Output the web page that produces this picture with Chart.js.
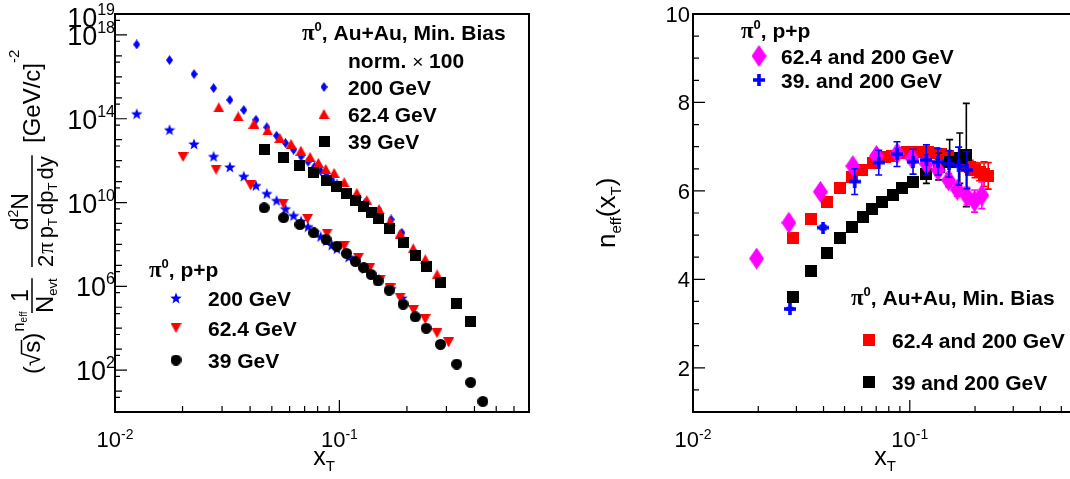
<!DOCTYPE html>
<html>
<head>
<meta charset="utf-8">
<script src="https://cdn.jsdelivr.net/npm/chart.js@4.4.1/dist/chart.umd.min.js"></script>
<style>
html, body { margin: 0; padding: 0; background: #fff; overflow: hidden; width: 1070px; height: 479px; }
#left { position: absolute; left: 0; top: 0; }
#right { position: absolute; left: 540px; top: 0; }
</style>
</head>
<body>
<canvas id="left" width="540" height="479"></canvas>
<canvas id="right" width="560" height="479"></canvas>
<script>
// ---- left panel: scaled pi0 yields vs xT (Au+Au already x100) ----
const xT200 = [0.0125, 0.0175, 0.0225, 0.0275, 0.0325, 0.0375, 0.0425, 0.0475, 0.0525, 0.0575, 0.0625, 0.0675,
  0.0725, 0.0775, 0.0825, 0.0875, 0.0925, 0.0975, 0.11, 0.13, 0.15, 0.17, 0.19];
const auau200Y = [3.5e17, 6.3e16, 1.35e16, 2.9e15, 7.9e14, 2.6e14, 8.9e13, 3.9e13, 1.55e13, 6.9e12, 3.3e12, 1.6e12,
  8.9e11, 5.2e11, 3.2e11, 1.9e11, 1.2e11, 7.4e10, 2.8e10, 9.5e9, 4.2e9, 1.55e9, 3.6e8];
const pp200Y = [1.74e14, 3.0e13, 6.3e12, 1.6e12, 5.0e11, 1.8e11, 6.5e10, 2.7e10, 1.26e10, 5.1e9, 2.4e9, 1.3e9,
  7.1e8, 4.0e8, 2.4e8, 1.5e8, 9.5e7, 6.3e7, 2.5e7, 7.1e6, 2.2e6, 7.9e5, 2.8e5];

const auau62X = [0.029, 0.0354, 0.0416, 0.0479, 0.0543, 0.0609, 0.0674, 0.074, 0.0806, 0.087, 0.0947, 0.105,
  0.1196, 0.1325, 0.1504, 0.1683, 0.1866, 0.2133, 0.2415, 0.2725];
const auau62Y = [3.5e14, 1.3e14, 5.8e13, 2.75e13, 1.2e13, 6.3e12, 3.0e12, 1.5e12, 7.8e11, 4.0e11, 2.6e11, 9.3e10,
  2.9e10, 1.3e10, 4.7e9, 1.26e9, 3.3e8, 6.5e7, 1.95e7, 3.7e6];

const pp62X = [0.0201, 0.0282, 0.0402, 0.0562, 0.0721, 0.0881, 0.105, 0.1216, 0.1362, 0.1522, 0.1683, 0.1866,
  0.214, 0.2413, 0.2723, 0.3067];
const pp62Y = [1.5e12, 3.7e11, 6.5e10, 8.9e9, 1.66e9, 3.3e8, 8.3e7, 2.3e7, 7.1e6, 2.1e6, 7.9e5, 2.9e5,
  7.4e4, 2.7e4, 5.8e3, 2.1e3];

const auau39X = [0.0462, 0.0564, 0.0667, 0.0769, 0.0872, 0.0974, 0.1077, 0.1179, 0.1282, 0.1385, 0.1487, 0.1667,
  0.1923, 0.2179, 0.2436, 0.2821, 0.3333, 0.3846];
const auau39Y = [3.3e12, 1.35e12, 5.6e11, 2.6e11, 1.15e11, 5.6e10, 2.7e10, 1.3e10, 6.3e9, 3.2e9, 1.66e9, 5.6e8,
  1.2e8, 3.0e7, 9.3e6, 1.5e6, 1.55e5, 2.1e4];

const pp39X = [0.0462, 0.0564, 0.0667, 0.0769, 0.0872, 0.0974, 0.1077, 0.1179, 0.1282, 0.1385, 0.1487, 0.1667,
  0.1923, 0.2179, 0.2436, 0.2821, 0.3333, 0.3846, 0.4359];
const pp39Y = [5.6e9, 1.9e9, 8.9e8, 3.6e8, 1.74e8, 8.3e7, 3.7e7, 1.55e7, 7.8e6, 3.7e6, 1.8e6, 6.5e5,
  1.4e5, 3.5e4, 1.0e4, 1.7e3, 195, 26, 3.2];

// ---- right panel: n_eff(xT) ----
const neffPP62X = [0.01965, 0.02767, 0.0387, 0.0546, 0.0702, 0.0875, 0.1023, 0.1193, 0.135, 0.151, 0.1656, 0.1834, 0.199, 0.215];
const neffPP62 = [4.47, 5.28, 5.98, 6.56, 6.79, 6.85, 6.74, 6.61, 6.47, 6.24, 6.03, 5.88, 5.77, 5.90];
const neffPP62Err = [0.02, 0.02, 0.03, 0.05, 0.06, 0.07, 0.08, 0.1, 0.12, 0.15, 0.15, 0.2, 0.25, 0.3];

const neffPP39X = [0.028, 0.0398, 0.0557, 0.0719, 0.0873, 0.1035, 0.1193, 0.1349, 0.1516, 0.168, 0.1835];
const neffPP39 = [3.33, 5.17, 6.21, 6.64, 6.83, 6.66, 6.70, 6.66, 6.61, 6.56, 6.47];
const neffPP39Err = [0.03, 0.05, 0.29, 0.28, 0.28, 0.28, 0.34, 0.3, 0.3, 0.43, 0.42];

const neffAA62X = [0.029, 0.0352, 0.0415, 0.0479, 0.0544, 0.0605, 0.0676, 0.0766, 0.083, 0.09, 0.097, 0.105, 0.113,
  0.121, 0.13, 0.14, 0.15, 0.16, 0.17, 0.18, 0.19, 0.2, 0.21, 0.22, 0.23];
const neffAA62 = [4.94, 5.36, 5.75, 6.06, 6.31, 6.47, 6.62, 6.77, 6.80, 6.86, 6.88, 6.88, 6.88,
  6.88, 6.86, 6.83, 6.79, 6.74, 6.67, 6.61, 6.54, 6.47, 6.43, 6.38, 6.34];
const neffAA62Err = [0.03, 0.03, 0.03, 0.03, 0.03, 0.03, 0.04, 0.04, 0.04, 0.05, 0.05, 0.05, 0.06,
  0.06, 0.07, 0.08, 0.08, 0.1, 0.1, 0.12, 0.15, 0.17, 0.2, 0.28, 0.3];

const neffAA39X = [0.0289, 0.0352, 0.0415, 0.0479, 0.0544, 0.0608, 0.0672, 0.0744, 0.0837, 0.0925, 0.1034, 0.1193,
  0.136, 0.1527, 0.170, 0.1823];
const neffAA39 = [3.60, 4.19, 4.60, 4.93, 5.19, 5.40, 5.58, 5.75, 5.90, 6.06, 6.21, 6.39, 6.55, 6.66, 6.74, 6.81];
const neffAA39Err = [0.03, 0.03, 0.03, 0.03, 0.04, 0.04, 0.05, 0.05, 0.06, 0.08, 0.1, 0.22, 0.3, 0.5, 0.57, 1.17];

// axis tick values
const xLabelVals = [0.01, 0.1];
const xMinorVals = [0.02, 0.03, 0.04, 0.05, 0.06, 0.07, 0.08, 0.09, 0.2, 0.3, 0.4, 0.5, 0.6, 0.7];
const leftYLabelVals = [1e2, 1e6, 1e10, 1e14, 1e18, 1e19];
const rightYLabelVals = [2, 4, 6, 8, 10];

const SANS = '"Liberation Sans", Arial, Helvetica, sans-serif';
const SERIF = '"Liberation Serif", "Times New Roman", serif';
const F = (px, bold) => (bold ? 'bold ' : '') + px + 'px ' + SANS;

// ---- marker images (ROOT style filled markers) ----
function marker(w, h, color, draw) {
  const c = document.createElement('canvas');
  c.width = w; c.height = h;
  const g = c.getContext('2d');
  g.fillStyle = color;
  g.beginPath();
  draw(g, w, h);
  g.fill();
  return c;
}
const diamond = (w, h, col) => marker(w, h, col, (g) => {
  g.moveTo(w / 2, 0); g.lineTo(w, h / 2); g.lineTo(w / 2, h); g.lineTo(0, h / 2); g.closePath();
});
const triUp = (w, h, col) => marker(w, h, col, (g) => { g.moveTo(w / 2, 0); g.lineTo(w, h); g.lineTo(0, h); g.closePath(); });
const triDown = (w, h, col) => marker(w, h, col, (g) => { g.moveTo(0, 0); g.lineTo(w, 0); g.lineTo(w / 2, h); g.closePath(); });
const square = (s, col) => marker(s, s, col, (g) => g.rect(0, 0, s, s));
const circle = (s, col) => marker(s, s, col, (g) => g.arc(s / 2, s / 2, s / 2, 0, Math.PI * 2));
const cross = (s, t, col) => marker(s, s, col, (g) => { g.rect(0, (s - t) / 2, s, t); g.rect((s - t) / 2, 0, t, s); });
const star = (s, col) => marker(s, s, col, (g) => {
  const R = s / 2, r = R * 0.42;
  for (let k = 0; k < 10; k++) {
    const a = -Math.PI / 2 + k * Math.PI / 5, rr = k % 2 ? r : R;
    g.lineTo(R + rr * Math.cos(a), R + 0.6 + rr * Math.sin(a));
  }
  g.closePath();
});

const BLUE = '#0000ff', RED = '#ff0000', MAG = '#ff00ff', BLK = '#000000';
const mDiaBlue = diamond(7, 10, BLUE);
const mStar = star(12, BLUE);
const mTriUp = triUp(11, 10, RED);
const mTriDown = triDown(11, 10, RED);
const mSqBlk = square(11, BLK);
const mCirc = circle(11, BLK);
const mDiaMag = diamond(15, 22, MAG);
const mCross = cross(12, 3.6, BLUE);
const mSqRed = square(12, RED);
const mSqBlk2 = square(12, BLK);

const pts = (xs, ys) => xs.map((x, i) => ({ x, y: ys[i] }));

function ds(xs, ys, img, extra) {
  return Object.assign({ data: pts(xs, ys), pointStyle: img, pointRadius: 6, pointHoverRadius: 6,
    pointBorderWidth: 0, showLine: false }, extra || {});
}

// vertical error bars, drawn just under each dataset's own markers
const errorBars = {
  id: 'errorBars',
  beforeDatasetDraw(chart, args) {
    const d = chart.data.datasets[args.index];
    if (!d.errors) return;
    const ctx = chart.ctx, ys = chart.scales.y;
    ctx.save();
    ctx.strokeStyle = d.barColor;
    ctx.lineWidth = 1.6;
    args.meta.data.forEach((p, i) => {
      const v = d.data[i].y, e = d.errors[i];
      const t = ys.getPixelForValue(v + e), b = ys.getPixelForValue(v - e);
      ctx.beginPath();
      ctx.moveTo(p.x, t); ctx.lineTo(p.x, b);
      ctx.moveTo(p.x - 3.5, t); ctx.lineTo(p.x + 3.5, t);
      ctx.moveTo(p.x - 3.5, b); ctx.lineTo(p.x + 3.5, b);
      ctx.stroke();
    });
    ctx.restore();
  }
};

function drawFrame(chart, xTicks, yTicks) {
  const { ctx, chartArea: a, scales: { x, y } } = chart;
  ctx.save();
  ctx.strokeStyle = '#000';
  ctx.lineWidth = 1.2;
  ctx.beginPath();
  xTicks.forEach(([v, len]) => { const px = x.getPixelForValue(v); ctx.moveTo(px, a.bottom); ctx.lineTo(px, a.bottom - len); });
  yTicks.forEach(([v, len]) => { const py = y.getPixelForValue(v); ctx.moveTo(a.left, py); ctx.lineTo(a.left + len, py); });
  ctx.stroke();
  ctx.lineWidth = 2;
  ctx.strokeRect(a.left, a.top, a.right - a.left, a.bottom - a.top);
  ctx.restore();
}

function powLabel(ctx, exp, x, y, base, sup, rise, align) {
  ctx.font = F(base); const w1 = ctx.measureText('10').width;
  ctx.font = F(sup); const w2 = ctx.measureText(exp).width;
  const x0 = align === 'right' ? x - w1 - w2 : x - (w1 + w2) / 2;
  ctx.font = F(base); ctx.fillText('10', x0, y);
  ctx.font = F(sup); ctx.fillText(exp, x0 + w1, y - rise);
}

// runs of text pieces: [text, font, dy, gapBefore]
function run(ctx, x, y, parts) {
  parts.forEach(([t, f, dy, gap]) => {
    x += gap || 0;
    ctx.font = f; ctx.fillText(t, x, y + (dy || 0)); x += ctx.measureText(t).width;
  });
  return x;
}
function runW(ctx, parts) {
  let w = 0;
  parts.forEach(([t, f, dy, gap]) => { ctx.font = f; w += ctx.measureText(t).width + (gap || 0); });
  return w;
}
function piHead(ctx, x, y, rest) {
  run(ctx, x, y, [['\u03c0', 'bold 23px ' + SERIF], ['0', F(13, true), -9], [rest, F(21, true)]]);
}

function xAxisCommon(chart, shift) {
  const { ctx, chartArea: a, scales: { x } } = chart;
  xLabelVals.forEach(v => powLabel(ctx, String(Math.round(Math.log10(v))), x.getPixelForValue(v), 447, 22, 14, 8, 'center'));
  const parts = [['x', F(25)], ['T', F(15), 6]];
  run(ctx, (a.left + a.right) / 2 - runW(ctx, parts) / 2 + shift, 465, parts);
}

function xTickList() {
  return xLabelVals.map(v => [v, 12]).concat(xMinorVals.map(v => [v, 6]));
}

const leftDeco = {
  id: 'leftDeco',
  afterDraw(chart) {
    const { ctx, chartArea: a, scales: { y } } = chart;
    const yTicks = [];
    for (let e = 0; e <= 19; e++) {
      yTicks.push([Math.pow(10, e), (e - 2) % 4 === 0 ? 12 : 7]);
      if (e < 19) yTicks.push([5 * Math.pow(10, e), 5]);
    }
    drawFrame(chart, xTickList(), yTicks);
    ctx.save();
    ctx.fillStyle = '#000';
    ctx.textBaseline = 'alphabetic';
    leftYLabelVals.forEach(v => {
      let py = y.getPixelForValue(v) + 10;
      if (py < a.top + 13) py = a.top + 13;
      powLabel(ctx, String(Math.round(Math.log10(v))), a.left, py, 27, 16, 12, 'right');
    });
    xAxisCommon(chart, 2);

    // rotated y title: page (x, y) = (v, -u)
    ctx.save();
    ctx.rotate(-Math.PI / 2);
    ctx.strokeStyle = '#000';
    ctx.lineWidth = 1.5;
    let u = -374;
    ctx.font = F(24);
    ctx.fillText('(', u, 40); u += ctx.measureText('(').width;
    ctx.fillText('\u221a', u, 40); u += ctx.measureText('\u221a').width;
    const s0 = u;
    ctx.fillText('s', u, 40); u += ctx.measureText('s').width;
    ctx.beginPath(); ctx.moveTo(s0 - 1, 21.5); ctx.lineTo(u + 1, 21.5); ctx.stroke();
    ctx.fillText(')', u, 40); u += ctx.measureText(')').width;
    run(ctx, u + 1, 24, [['n', F(17)], ['eff', F(10), 3]]);
    // 1 / N_evt
    let f0 = -313;
    const den1 = [['N', F(24)], ['evt', F(13), 4]];
    const w1 = runW(ctx, den1);
    ctx.beginPath(); ctx.moveTo(f0, 32); ctx.lineTo(f0 + w1, 32); ctx.stroke();
    run(ctx, f0, 53, den1);
    ctx.font = F(23);
    ctx.fillText('1', f0 + w1 / 2 - ctx.measureText('1').width / 2, 28);
    // d2N / (2pi pT dpT dy)
    f0 = -267;
    const den2 = [['2', F(22)], ['\u03c0', '23px ' + SERIF, 0, 1], ['p', F(22), 0, 4], ['T', F(13), 4],
      ['dp', F(22), 0, 3], ['T', F(13), 4], ['dy', F(22), 0, 3]];
    const w2 = runW(ctx, den2);
    ctx.beginPath(); ctx.moveTo(f0, 32); ctx.lineTo(f0 + w2 + 1, 32); ctx.stroke();
    run(ctx, f0, 53, den2);
    const num2 = [['d', F(23)], ['2', F(14), -10], ['N', F(23)]];
    run(ctx, f0 + w2 / 2 - runW(ctx, num2) / 2, 28, num2);
    run(ctx, -143, 40, [['[GeV/c]', F(24)], ['-2', F(15), -21]]);
    ctx.restore();

    // legends
    piHead(ctx, 302, 40, ', Au+Au, Min. Bias');
    run(ctx, 348, 68, [['norm. ', F(21, true)], ['\u00d7', F(19)], [' 100', F(21, true)]]);
    const legA = [[mDiaBlue, 87, '200 GeV'], [mTriUp, 114, '62.4 GeV'], [mSqBlk, 141, '39 GeV']];
    legA.forEach(([img, cy, t]) => {
      ctx.drawImage(img, 324 - img.width / 2, cy - img.height / 2);
      ctx.font = F(21, true); ctx.fillText(t, 348, cy + 7.5);
    });
    piHead(ctx, 149, 277, ', p+p');
    const legB = [[mStar, 298, '200 GeV'], [mTriDown, 328, '62.4 GeV'], [mCirc, 360, '39 GeV']];
    legB.forEach(([img, cy, t]) => {
      ctx.drawImage(img, 176 - img.width / 2, cy - img.height / 2);
      ctx.font = F(21, true); ctx.fillText(t, 208, cy + 8);
    });
    ctx.restore();
  }
};

const rightDeco = {
  id: 'rightDeco',
  afterDraw(chart) {
    const { ctx, chartArea: a, scales: { y } } = chart;
    const yTicks = [];
    for (let v = 1; v <= 10; v += 0.5) yTicks.push([v, v % 2 === 0 ? 12 : 6]);
    drawFrame(chart, xTickList(), yTicks);
    ctx.save();
    ctx.fillStyle = '#000';
    ctx.font = F(22);
    ctx.textAlign = 'right';
    rightYLabelVals.forEach(v => ctx.fillText(String(v), a.left - 3, y.getPixelForValue(v) + 8));
    ctx.textAlign = 'left';
    xAxisCommon(chart, -8);

    ctx.save();
    ctx.rotate(-Math.PI / 2);
    run(ctx, -248, 75, [['n', F(26)], ['eff', F(15), 6], ['(', F(26)], ['x', F(26)], ['T', F(15), 6], [')', F(26)]]);
    ctx.restore();

    // legends (local x = page x - 540)
    piHead(ctx, 201, 38, ', p+p');
    const legA = [[mDiaMag, 56, '62.4 and 200 GeV'], [mCross, 80, '39. and 200 GeV']];
    legA.forEach(([img, cy, t]) => {
      ctx.drawImage(img, 219 - img.width / 2, cy - img.height / 2);
      ctx.font = F(21, true); ctx.fillText(t, 241, cy + 7.5);
    });
    piHead(ctx, 311, 305, ', Au+Au, Min. Bias');
    const legB = [[mSqRed, 340, '62.4 and 200 GeV'], [mSqBlk2, 382, '39 and 200 GeV']];
    legB.forEach(([img, cy, t]) => {
      ctx.drawImage(img, 329 - img.width / 2, cy - img.height / 2);
      ctx.font = F(21, true); ctx.fillText(t, 352, cy + 8);
    });
    ctx.restore();
  }
};

function baseOptions(padding, yScale) {
  return {
    responsive: false,
    animation: false,
    events: [],
    layout: { padding },
    plugins: { legend: { display: false }, tooltip: { enabled: false } },
    scales: {
      x: { type: 'logarithmic', min: 0.01, max: 0.7, display: false },
      y: Object.assign({ display: false }, yScale)
    }
  };
}

// first dataset is drawn on top
new Chart(document.getElementById('left'), {
  type: 'scatter',
  data: {
    datasets: [
      ds(pp39X, pp39Y, mCirc),
      ds(auau39X, auau39Y, mSqBlk),
      ds(pp62X, pp62Y, mTriDown),
      ds(auau62X, auau62Y, mTriUp),
      ds(xT200, pp200Y, mStar),
      ds(xT200, auau200Y, mDiaBlue)
    ]
  },
  options: baseOptions({ left: 115, right: 11, top: 14, bottom: 67 }, { type: 'logarithmic', min: 1, max: 1e19 }),
  plugins: [leftDeco]
});

new Chart(document.getElementById('right'), {
  type: 'scatter',
  data: {
    datasets: [
      ds(neffPP39X, neffPP39, mCross, { errors: neffPP39Err, barColor: BLUE }),
      ds(neffPP62X, neffPP62, mDiaMag, { errors: neffPP62Err, barColor: MAG }),
      ds(neffAA39X, neffAA39, mSqBlk2, { errors: neffAA39Err, barColor: BLK }),
      ds(neffAA62X, neffAA62, mSqRed, { errors: neffAA62Err, barColor: RED })
    ]
  },
  options: baseOptions({ left: 153, right: 7, top: 14, bottom: 67 }, { type: 'linear', min: 1, max: 10 }),
  plugins: [errorBars, rightDeco]
});
</script>
</body>
</html>
